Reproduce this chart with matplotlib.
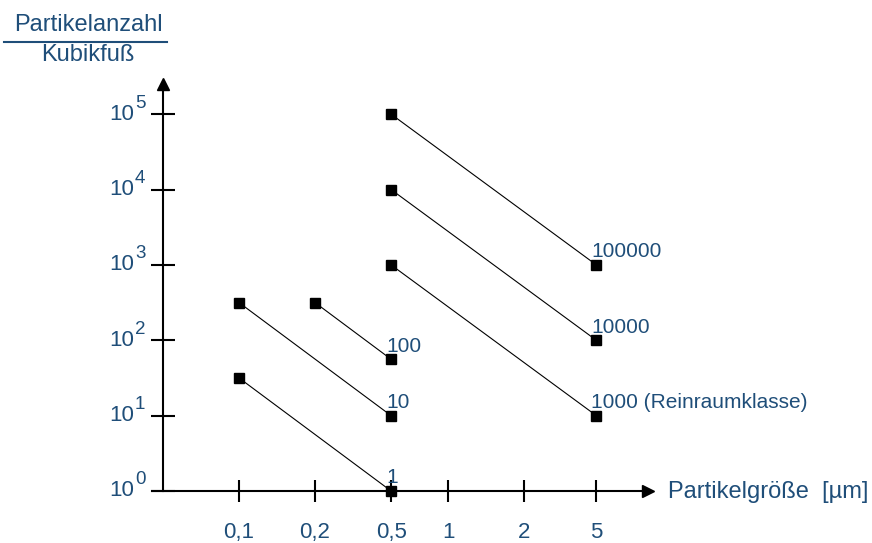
import numpy as np
import matplotlib
matplotlib.use("Agg")
import matplotlib.pyplot as plt
from matplotlib.lines import Line2D

plt.rcParams["font.family"] = ["Liberation Sans", "DejaVu Sans"]

TEXT = "#1f4e79"

# Data: clean room classes (particles per cubic foot vs. particle size)
class_labels = ["1", "10", "100", "1000 (Reinraumklasse)", "10000", "100000"]
size_start = [0.1, 0.1, 0.2, 0.5, 0.5, 0.5]
size_end = [0.5, 0.5, 0.5, 5, 5, 5]
count_start = [31.6, 316, 316, 1000, 10000, 100000]
count_end = [1, 10, 56, 10, 100, 1000]

x_ticks = [0.1, 0.2, 0.5, 1, 2, 5]
x_ticklabels = ["0,1", "0,2", "0,5", "1", "2", "5"]
y_ticks = [1, 10, 100, 1000, 10000, 100000]
y_exponents = ["0", "1", "2", "3", "4", "5"]

# the original sketch spaces its size ticks unevenly -> piecewise log scale
knot_log = np.log10(x_ticks)
knot_pos = np.array([0, 1, 2, 2.75, 3.75, 4.7])


def _fwd(x):
    lx = np.log10(np.clip(x, 1e-12, None))
    out = np.interp(lx, knot_log, knot_pos)
    s0 = (knot_pos[1] - knot_pos[0]) / (knot_log[1] - knot_log[0])
    s1 = (knot_pos[-1] - knot_pos[-2]) / (knot_log[-1] - knot_log[-2])
    out = np.where(lx < knot_log[0], knot_pos[0] + (lx - knot_log[0]) * s0, out)
    out = np.where(lx > knot_log[-1], knot_pos[-1] + (lx - knot_log[-1]) * s1, out)
    return out


def _inv(p):
    p = np.asarray(p, dtype=float)
    out = np.interp(p, knot_pos, knot_log)
    s0 = (knot_log[1] - knot_log[0]) / (knot_pos[1] - knot_pos[0])
    s1 = (knot_log[-1] - knot_log[-2]) / (knot_pos[-1] - knot_pos[-2])
    out = np.where(p < knot_pos[0], knot_log[0] + (p - knot_pos[0]) * s0, out)
    out = np.where(p > knot_pos[-1], knot_log[-1] + (p - knot_pos[-1]) * s1, out)
    return 10 ** out


fig = plt.figure(figsize=(8.72, 5.43), dpi=100)
ax = fig.add_axes([152 / 872, 52 / 543, 496 / 872, 407 / 543])
ax.set_xscale("function", functions=(_fwd, _inv))
ax.set_yscale("log")
ax.set_xlim(_inv(-1.145), _inv(5.38))
ax.set_ylim(1, 10 ** 5.40)

for lbl, x0, x1, y0, y1 in zip(class_labels, size_start, size_end, count_start, count_end):
    ax.plot([x0, x1], [y0, y1], color="black", lw=0.8, zorder=3)
    ax.plot([x0, x1], [y0, y1], ls="none", marker="s", ms=6.5, color="black",
            clip_on=False, zorder=4)
    ax.annotate(lbl, (x1, y1), xytext=(-3.5, 9.5), textcoords="offset points",
                ha="left", va="center", fontsize=15, color=TEXT)

# axes with arrows
for side in ["top", "right"]:
    ax.spines[side].set_visible(False)
ax.spines["left"].set_position(("axes", 0.0222))
for side in ["left", "bottom"]:
    ax.spines[side].set_linewidth(1.5)
ax.plot(1, 0, marker=">", ms=9, color="black", transform=ax.transAxes, clip_on=False)
ax.plot(0.0222, 1, marker="^", ms=9, color="black", transform=ax.transAxes, clip_on=False)

ax.set_xticks(x_ticks)
ax.set_xticklabels(x_ticklabels)
ax.set_yticks(y_ticks)
ax.set_yticklabels([])
ax.minorticks_off()
ax.tick_params(axis="x", direction="inout", length=16, width=1.5, pad=14,
               labelsize=16, labelcolor=TEXT)
ax.tick_params(axis="y", direction="inout", length=17, width=1.5)

# y tick labels as "10" with a large superscript, like the original
for yv, ex in zip(y_ticks, y_exponents):
    ax.annotate("10", (0, yv), xycoords=("axes fraction", "data"), xytext=(-13, 0),
                textcoords="offset points", ha="right", va="center",
                fontsize=16, color=TEXT, annotation_clip=False)
    ax.annotate(ex, (0, yv), xycoords=("axes fraction", "data"), xytext=(-12.3, 8),
                textcoords="offset points", ha="left", va="center",
                fontsize=13.5, color=TEXT, annotation_clip=False)

fig.text(668 / 872, 1 - 492 / 543, "Partikelgröße  [µm]", ha="left", va="center",
         fontsize=17, color=TEXT)

# y-axis title as a fraction
fig.text(88 / 872, 1 - 25 / 543, "Partikelanzahl", ha="center", va="center",
         fontsize=17, color=TEXT)
fig.text(88 / 872, 1 - 55 / 543, "Kubikfuß", ha="center", va="center",
         fontsize=17, color=TEXT)
fig.add_artist(Line2D([4 / 872, 167 / 872], [1 - 41.5 / 543, 1 - 41.5 / 543],
                      color=TEXT, lw=1.5))

fig.savefig("out.png", dpi=100)
